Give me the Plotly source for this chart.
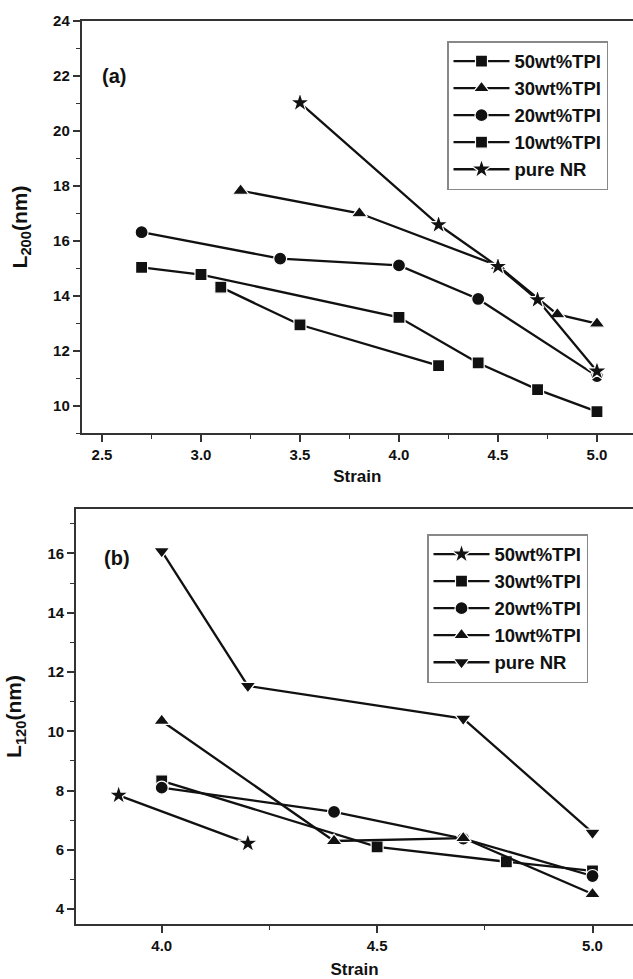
import plotly.graph_objects as go

# ---------------- Panel (a): L200 ----------------
a_names = ["50wt%TPI", "30wt%TPI", "20wt%TPI", "10wt%TPI", "pure NR"]
a_symbols = ["square", "triangle-up", "circle", "square", "star"]
a_x = [
    [3.1, 3.5, 4.2],
    [3.2, 3.8, 4.5, 4.8, 5.0],
    [2.7, 3.4, 4.0, 4.4, 5.0],
    [2.7, 3.0, 4.0, 4.4, 4.7, 5.0],
    [3.5, 4.2, 4.5, 4.7, 5.0],
]
a_y = [
    [14.31, 12.94, 11.45],
    [17.82, 17.00, 15.09, 13.32, 12.98],
    [16.31, 15.35, 15.10, 13.88, 11.07],
    [15.03, 14.77, 13.21, 11.55, 10.58, 9.78],
    [21.02, 16.58, 15.06, 13.85, 11.25],
]

# ---------------- Panel (b): L120 ----------------
b_names = ["50wt%TPI", "30wt%TPI", "20wt%TPI", "10wt%TPI", "pure NR"]
b_symbols = ["star", "square", "circle", "triangle-up", "triangle-down"]
b_x = [
    [3.9, 4.2],
    [4.0, 4.5, 4.8, 5.0],
    [4.0, 4.4, 4.7, 5.0],
    [4.0, 4.4, 4.7, 5.0],
    [4.0, 4.2, 4.7, 5.0],
]
b_y = [
    [7.84, 6.22],
    [8.33, 6.10, 5.60, 5.29],
    [8.10, 7.28, 6.38, 5.12],
    [10.35, 6.30, 6.40, 4.51],
    [16.08, 11.53, 10.43, 6.58],
]

W, H = 633, 979
FONT = "Liberation Sans"
INK = "#111111"

sizes = {"square": 12, "circle": 13, "triangle-up": 14, "triangle-down": 14, "star": 15}

fig = go.Figure()

for n, s, xs, ys in zip(a_names, a_symbols, a_x, a_y):
    fig.add_trace(go.Scatter(
        x=xs, y=ys, name=n, mode="lines+markers",
        line=dict(color=INK, width=2.3),
        marker=dict(symbol=s, size=sizes[s], color=INK, line=dict(color="white", width=1.2)),
        xaxis="x", yaxis="y", legend="legend",
    ))

for n, s, xs, ys in zip(b_names, b_symbols, b_x, b_y):
    fig.add_trace(go.Scatter(
        x=xs, y=ys, name=n, mode="lines+markers",
        line=dict(color=INK, width=2.3),
        marker=dict(symbol=s, size=sizes[s], color=INK, line=dict(color="white", width=1.2)),
        xaxis="x2", yaxis="y2", legend="legend2",
    ))

axis_common = dict(
    showline=True, linecolor="#333333", linewidth=1.6, mirror=True,
    ticks="outside", ticklen=7, tickwidth=1.5, tickcolor="#333333",
    showgrid=False, zeroline=False, automargin=False,
    tickfont=dict(family=FONT, size=15, color=INK, weight="bold"),
)
minor_common = dict(ticks="outside", ticklen=4, tickwidth=1.3, tickcolor="#333333", showgrid=False)

legend_common = dict(
    xanchor="left", yanchor="top",
    bordercolor="#888888", borderwidth=1.5, bgcolor="white",
    font=dict(family=FONT, size=18.5, color=INK, weight="bold"),
    itemwidth=56, tracegroupgap=0,
)

fig.update_layout(
    width=W, height=H,
    margin=dict(l=0, r=0, t=0, b=0),
    paper_bgcolor="white", plot_bgcolor="white",
    font=dict(family=FONT, color=INK),
    xaxis=dict(
        **axis_common, domain=[81.6 / W, 1.0], range=[2.397, 5.182], anchor="y",
        dtick=0.5, tick0=2.5, tickformat=".1f",
        minor=dict(dtick=0.25, **minor_common),
        title=dict(text="Strain", font=dict(family=FONT, size=17, color=INK, weight="bold"), standoff=8),
    ),
    yaxis=dict(
        **axis_common, domain=[1 - 433 / H, 1 - 21 / H], range=[9.0, 24.0], anchor="x",
        dtick=2, tick0=10,
        minor=dict(dtick=1, **minor_common),
        title=dict(text="L<sub>200</sub>(nm)", font=dict(family=FONT, size=21, color=INK, weight="bold"), standoff=20),
    ),
    xaxis2=dict(
        **axis_common, domain=[76 / W, 1.0], range=[3.801, 5.094], anchor="y2",
        dtick=0.5, tick0=4.0, tickformat=".1f",
        minor=dict(dtick=0.25, **minor_common),
        title=dict(text="Strain", font=dict(family=FONT, size=17, color=INK, weight="bold"), standoff=13),
    ),
    yaxis2=dict(
        **axis_common, domain=[1 - 924 / H, 1 - 509 / H], range=[3.5, 17.5], anchor="x2",
        dtick=2, tick0=4,
        minor=dict(dtick=1, **minor_common),
        title=dict(text="L<sub>120</sub>(nm)", font=dict(family=FONT, size=21, color=INK, weight="bold"), standoff=20),
    ),
    legend=dict(x=447 / W, y=1 - 41 / H, **legend_common),
    legend2=dict(x=427 / W, y=1 - 534 / H, **legend_common),
    annotations=[
        dict(text="(a)", x=114 / W, y=1 - 76 / H, xref="paper", yref="paper", showarrow=False,
             xanchor="center", yanchor="middle",
             font=dict(family=FONT, size=20, color=INK, weight="bold")),
        dict(text="(b)", x=117 / W, y=1 - 558 / H, xref="paper", yref="paper", showarrow=False,
             xanchor="center", yanchor="middle",
             font=dict(family=FONT, size=20, color=INK, weight="bold")),
    ],
)

fig.write_html("out.html")
